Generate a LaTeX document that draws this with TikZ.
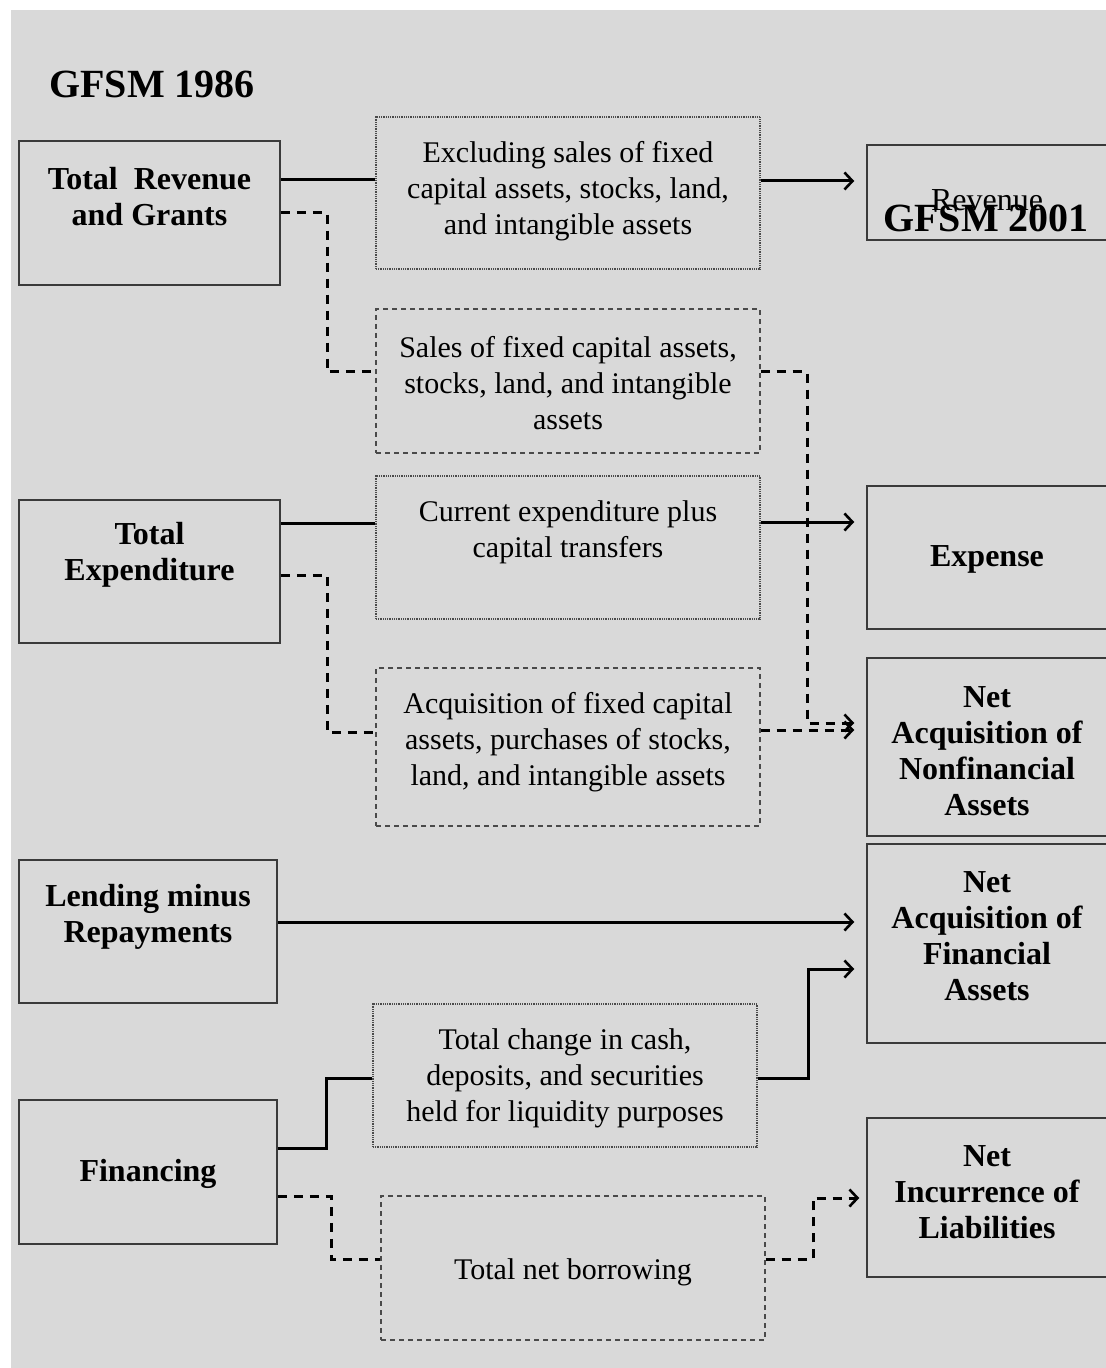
\documentclass[tikz,border=0pt]{standalone}
\usepackage{fontspec}
\setmainfont{Liberation Serif}
\usetikzlibrary{arrows.meta,fit,calc}
\definecolor{bg}{HTML}{D9D9D9}
\definecolor{boxgray}{HTML}{3A3A3A}
\definecolor{dotgray}{HTML}{4A4A4A}
\tikzset{
  sbox/.style={draw=boxgray, line width=0.75pt, inner sep=0pt},
  dotbox/.style={draw=dotgray, line width=0.6pt, dash pattern=on 0.45pt off 0.45pt, inner sep=0pt},
  dashbox/.style={draw=dotgray, line width=0.55pt, dash pattern=on 2.5pt off 2pt, inner sep=0pt},
  conn/.style={line width=1.5pt, black},
  dconn/.style={conn, dash pattern=on 4.5pt off 3.5pt},
  arr/.style={-{Straight Barb[length=4pt,width=8.5pt,line width=1.3pt]}},
  lbl/.style={font=\fontsize{16pt}{18pt}\selectfont\bfseries, align=center, inner sep=0pt},
  body/.style={font=\fontsize{15pt}{18pt}\selectfont, align=center, inner sep=0pt},
  ttl/.style={font=\fontsize{20pt}{24pt}\selectfont\bfseries, inner sep=0pt}
}
\begin{document}
\begin{tikzpicture}[x=0.5pt,y=-0.5pt]
\clip (0,0) rectangle (1106,1368);
\useasboundingbox (0,0) rectangle (1106,1368);
\fill[white] (0,0) rectangle (1106,1368);
\fill[bg] (11,10) rectangle (1106,1368);

% titles
\node[ttl] (t1986) at (152,84) {GFSM 1986};

% left boxes
\node[sbox, fit={(19,141) (280,285)}] (trg) {};
\node[lbl] (trgt) at (149.5,197) {Total\ \ Revenue\\and Grants};
\node[sbox, fit={(19,500) (280,643)}] (te) {};
\node[lbl] (tet) at (149.5,554.5) {Total\\Expenditure};
\node[sbox, fit={(19,860) (277,1003)}] (lmr) {};
\node[lbl] (lmrt) at (148,916.5) {Lending minus\\Repayments};
\node[sbox, fit={(19,1100) (277,1244)}] (fin) {};
\node[lbl] (fint) at (148,1174) {Financing};

% middle boxes
\node[dotbox, fit={(376,117) (760,269)}] (ma) {};
\node[body] (mat) at (568,191) {Excluding sales of fixed\\capital assets, stocks, land,\\and intangible assets};
\node[dashbox, fit={(376,309) (760,453)}] (mb) {};
\node[body] (mbt) at (568,383.5) {Sales of fixed capital assets,\\stocks, land, and intangible\\assets};
\node[dotbox, fit={(376,476) (760,619)}] (mc) {};
\node[body] (mct) at (568,532) {Current expenditure plus\\capital transfers};
\node[dashbox, fit={(376,668) (760,826)}] (md) {};
\node[body] (mdt) at (568,742.5) {Acquisition of fixed capital\\assets, purchases of stocks,\\land, and intangible assets};
\node[dotbox, fit={(373,1004) (757,1147)}] (me) {};
\node[body] (met) at (565,1078.5) {Total change in cash,\\deposits, and securities\\held for liquidity purposes};
\node[dashbox, fit={(381,1196) (765,1340)}] (mf) {};
\node[body] (mft) at (573,1272) {Total net borrowing};

% right boxes
\node[sbox, fit={(867,145) (1110,240)}] (r1) {};
\node[font=\fontsize{16pt}{18pt}\selectfont, inner sep=0pt] (r1t) at (987,200) {Revenue};
\node[ttl] (t2001) at (986,218) {GFSM 2001};
\node[sbox, fit={(867,486) (1110,629)}] (r2) {};
\node[lbl] (r2t) at (987,559) {Expense};
\node[sbox, fit={(867,658) (1110,836)}] (r3) {};
\node[lbl] (r3t) at (987,751.5) {Net\\Acquisition of\\Nonfinancial\\Assets};
\node[sbox, fit={(867,844) (1110,1043)}] (r4) {};
\node[lbl] (r4t) at (987,936.5) {Net\\Acquisition of\\Financial\\Assets};
\node[sbox, fit={(867,1118) (1110,1277)}] (r5) {};
\node[lbl] (r5t) at (987,1192.5) {Net\\Incurrence of\\Liabilities};

% connectors
\draw[conn] (trg.east |- 0,180) -- (ma.west |- 0,180);
\draw[conn,arr,shorten >=6pt] (ma.east |- 0,181) -- (r1.west |- 0,181);
\draw[dconn] (trg.east |- 0,213) -- (327,213) -- (327,372) -- (mb.west |- 0,372);
\draw[dconn,arr,shorten >=6pt] (mb.east |- 0,372) -- (807,372) -- (807,723) -- (r3.west |- 0,723);

\draw[conn] (te.east |- 0,523) -- (mc.west |- 0,523);
\draw[conn,arr,shorten >=6pt] (mc.east |- 0,522) -- (r2.west |- 0,522);
\draw[dconn] (te.east |- 0,575) -- (327,575) -- (327,732) -- (md.west |- 0,732);
\draw[dconn,arr,shorten >=6pt] (md.east |- 0,730) -- (r3.west |- 0,730);

\draw[conn,arr,shorten >=6pt] (lmr.east |- 0,922) -- (r4.west |- 0,922);

\draw[conn] (fin.east |- 0,1148) -- (326,1148) -- (326,1078) -- (me.west |- 0,1078);
\draw[conn,arr,shorten >=6pt] (me.east |- 0,1078) -- (808,1078) -- (808,969) -- (r4.west |- 0,969);
\draw[dconn] (fin.east |- 0,1196) -- (331,1196) -- (331,1259) -- (mf.west |- 0,1259);
\draw[dconn,arr,shorten >=3.5pt] (mf.east |- 0,1259) -- (813,1259) -- (813,1198) -- (r5.west |- 0,1198);
\end{tikzpicture}
\end{document}
